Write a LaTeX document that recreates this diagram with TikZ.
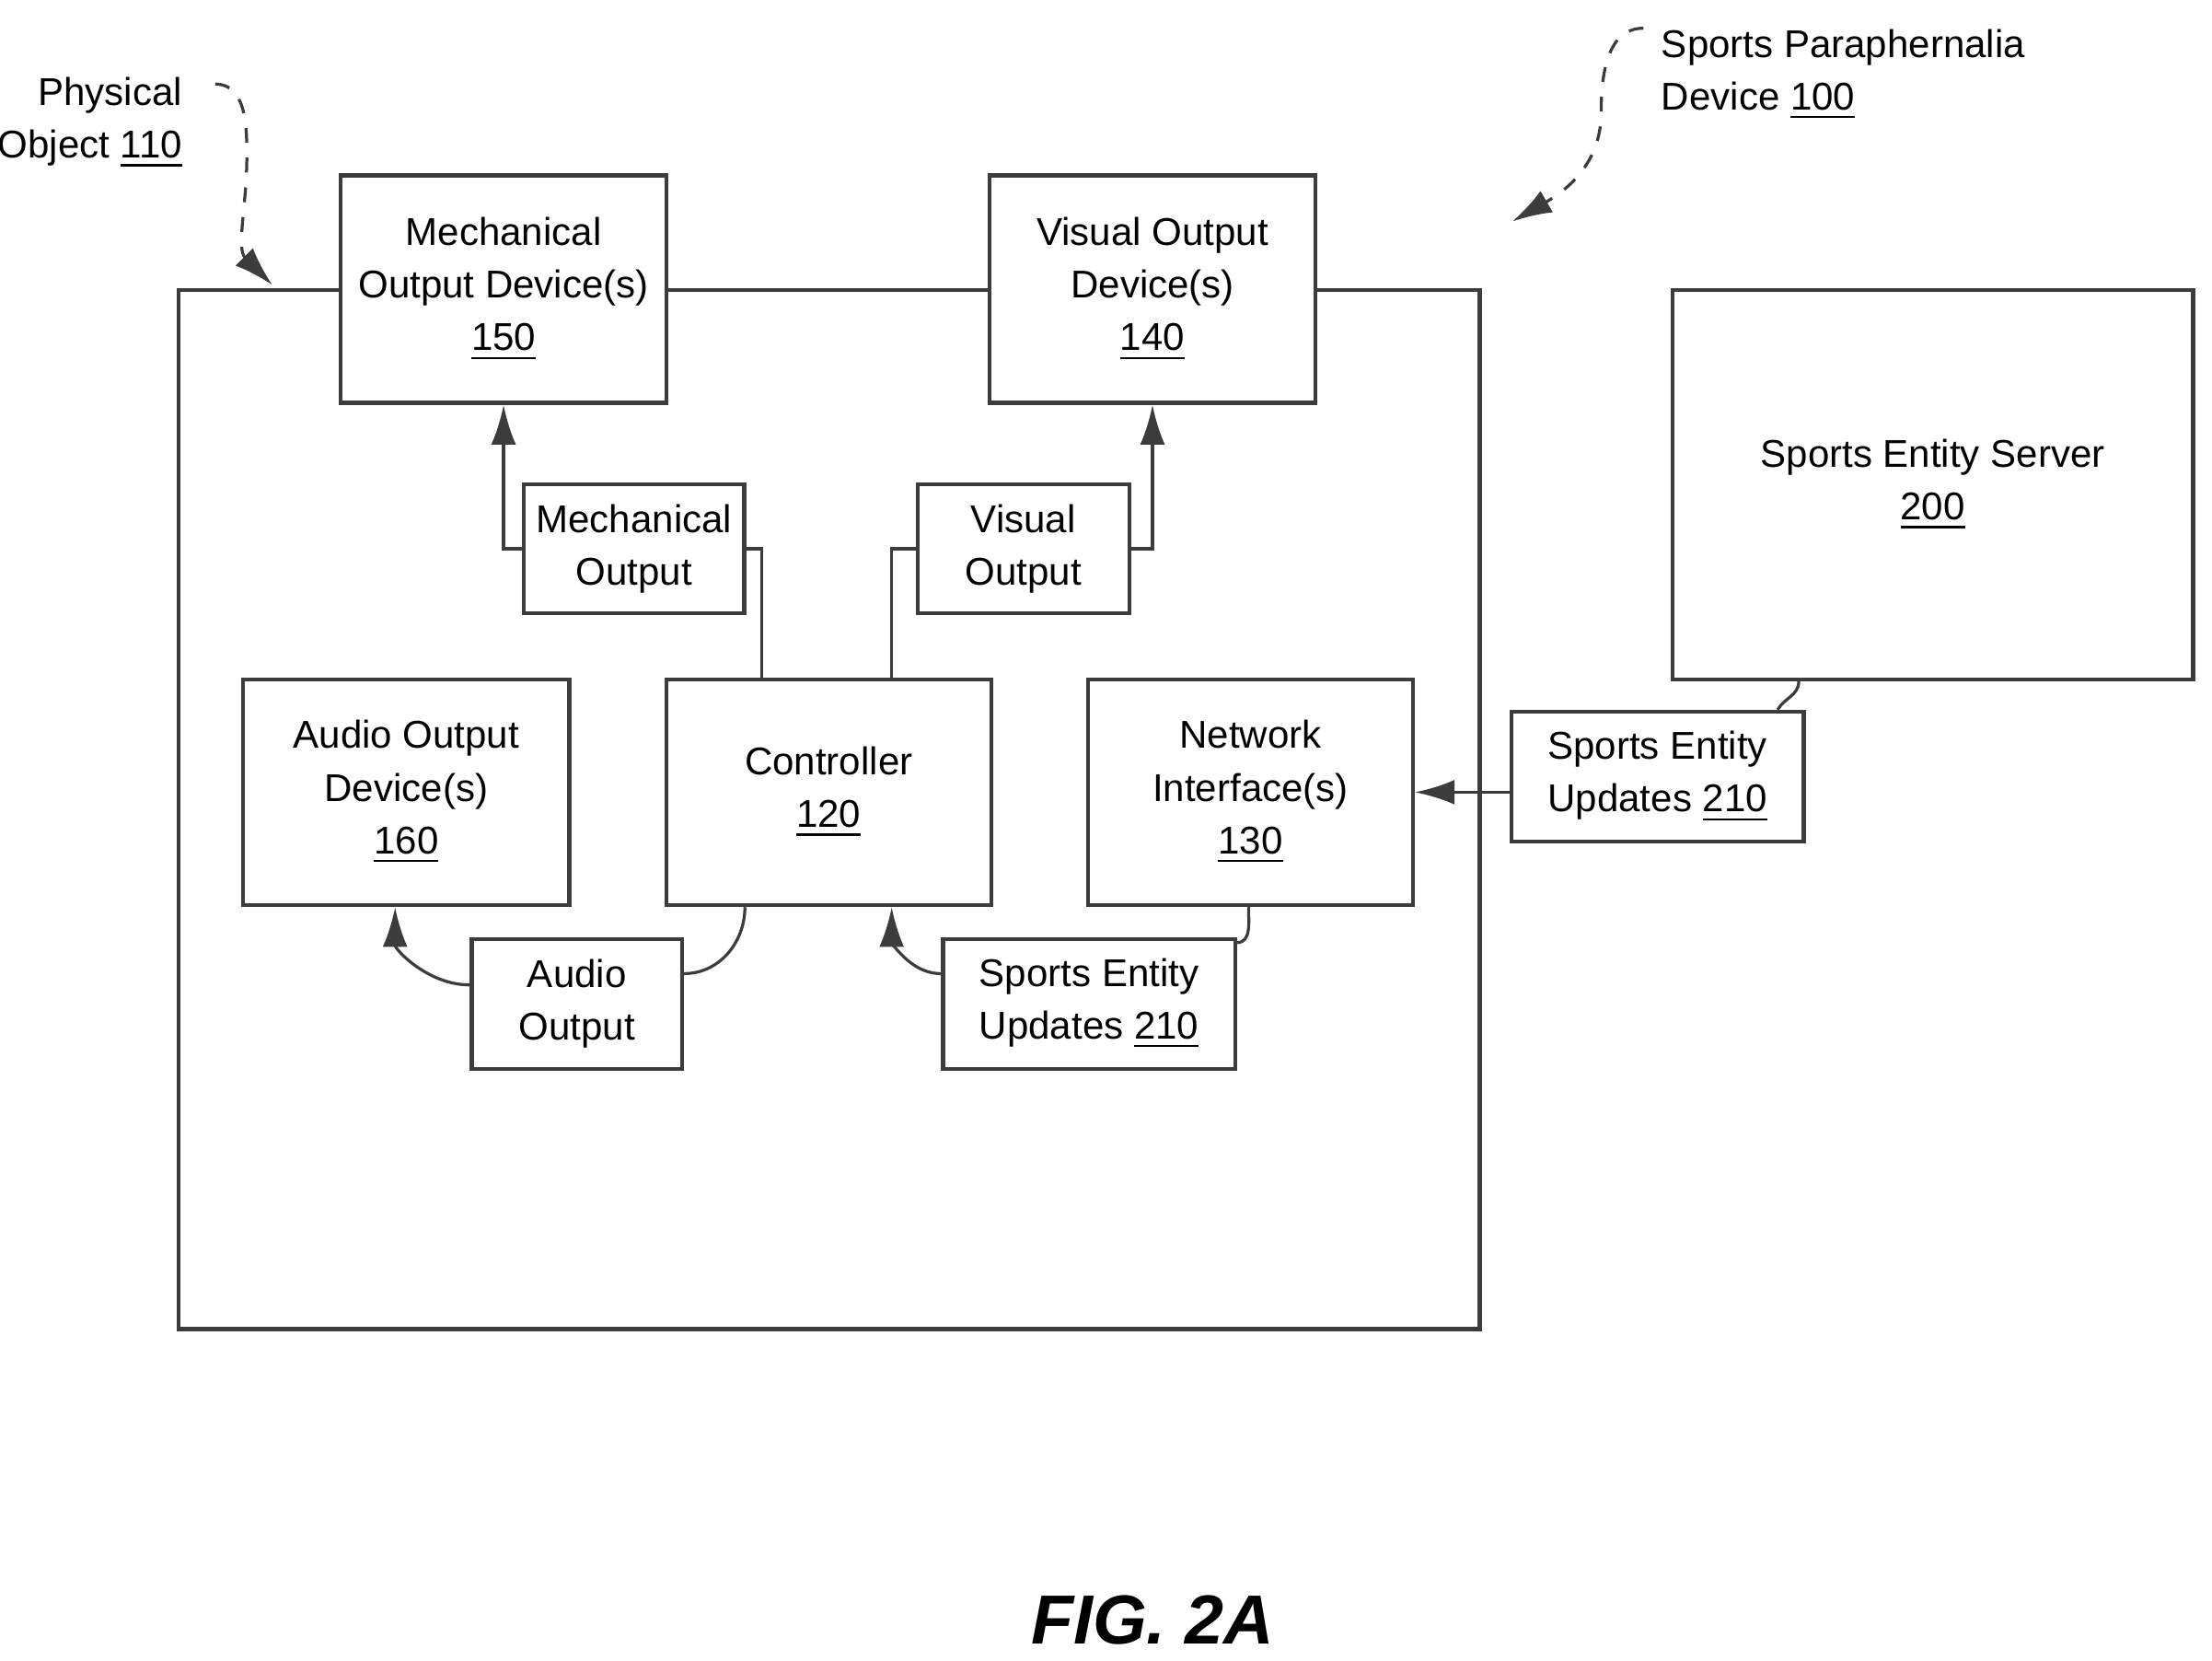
\documentclass[tikz,border=0pt]{standalone}
\usepackage{fontspec}
\setmainfont{Liberation Sans}
\usetikzlibrary{arrows.meta, positioning}
\definecolor{linegray}{RGB}{60,60,60}
\begin{document}
\begin{tikzpicture}[
	  x=0.01cm, y=-0.01cm,
	  font=\fontsize{7.8}{10.6}\selectfont,
	  every path/.style={line width=0.6pt},
	  box_style/.style={
	  	rectangle,
	  	draw=linegray,
	  	line width=0.8pt,
	  	align=center,
	  	text=black,
	  	inner sep=0pt,
	  	anchor=north west
	  },
	  conn/.style={draw=linegray, -{Latex[length=8pt,width=5pt]}},
	  wire/.style={draw=linegray}]
	\path[use as bounding box] (0,0) rectangle (1568,1177);
	% Outer object
	\node[box_style, minimum width=9.22cm, minimum height=7.36cm] (object) at (125,204) {};
	% Devices
	\node[box_style, minimum width=2.31cm, minimum height=1.61cm, fill=white] (mech) at (240,123) {Mechanical\\Output Device(s)\\\underline{150}};
	\node[box_style, minimum width=2.31cm, minimum height=1.61cm, fill=white] (visual) at (700,123) {Visual Output\\Device(s)\\\underline{140}};
	\node[box_style, minimum width=3.69cm, minimum height=2.76cm] (server) at (1184,204) {Sports Entity Server\\\underline{200}};
	\node[box_style, minimum width=2.31cm, minimum height=1.60cm] (audio) at (171,480) {Audio Output\\Device(s)\\\underline{160}};
	\node[box_style, minimum width=2.30cm, minimum height=1.60cm] (ctrl) at (471,480) {Controller\\\underline{120}};
	\node[box_style, minimum width=2.30cm, minimum height=1.60cm] (net) at (770,480) {Network\\Interface(s)\\\underline{130}};
	% Data boxes
	\node[box_style, minimum width=1.56cm, minimum height=0.91cm] (mechout) at (370,342) {Mechanical\\Output};
	\node[box_style, minimum width=1.50cm, minimum height=0.91cm] (visout) at (649,342) {Visual\\Output};
	\node[box_style, minimum width=1.49cm, minimum height=0.92cm] (audout) at (333,664) {Audio\\Output};
	\node[box_style, minimum width=2.07cm, minimum height=0.92cm] (updin) at (667,664) {Sports Entity\\Updates \underline{210}};
	\node[box_style, minimum width=2.07cm, minimum height=0.92cm] (updout) at (1070,503) {Sports Entity\\Updates \underline{210}};
	% Labels
	\node[align=right, anchor=north east] (physlbl) at (142,42) {Physical\\Object \underline{110}};
	\node[align=left, anchor=north west] (sportslbl) at (1165,8) {Sports Paraphernalia\\Device \underline{100}};
	\node[font=\fontsize{14}{16}\selectfont\bfseries\itshape] (fig) at (817,1148) {FIG. 2A};
	% Connectors
	\draw[wire] ([xshift=0.69cm]ctrl.north west) |- (mechout.east);
	\draw[conn] (mechout.west) -| (mech.south);
	\draw[wire] ([xshift=1.61cm]ctrl.north west) |- (visout.west);
	\draw[conn] (visout.east) -| (visual.south);
	\draw[wire] ([xshift=0.57cm]ctrl.south west) to[out=-90, in=0] ([yshift=-0.26cm]audout.north east);
	\draw[conn] ([yshift=-0.34cm]audout.north west) to[out=180, in=-90] ([xshift=1.09cm]audio.south west);
	\draw[wire] ([xshift=1.15cm]net.south west) to[out=-90, in=0] ([yshift=-0.04cm]updin.north east);
	\draw[conn] ([yshift=-0.26cm]updin.north west) to[out=180, in=-90] ([xshift=1.61cm]ctrl.south west);
	\draw[wire] ([xshift=0.91cm]server.south west) to[out=-90, in=60] ([xshift=1.90cm]updout.north west);
	\draw[conn] (updout.west |- net.east) -- (net.east);
	\draw[conn, dashed] ([xshift=3pt,yshift=-5pt]physlbl.north east) to[out=0, in=90] (175,110) to[out=-90, in=135] ([xshift=0.68cm,yshift=0.02cm]object.north west);
	\draw[conn, dashed] ([yshift=-0.12cm]sportslbl.north west) to[out=180, in=90] (1135,80) to[out=-90, in=30] (1072,157);
\end{tikzpicture}
\end{document}
